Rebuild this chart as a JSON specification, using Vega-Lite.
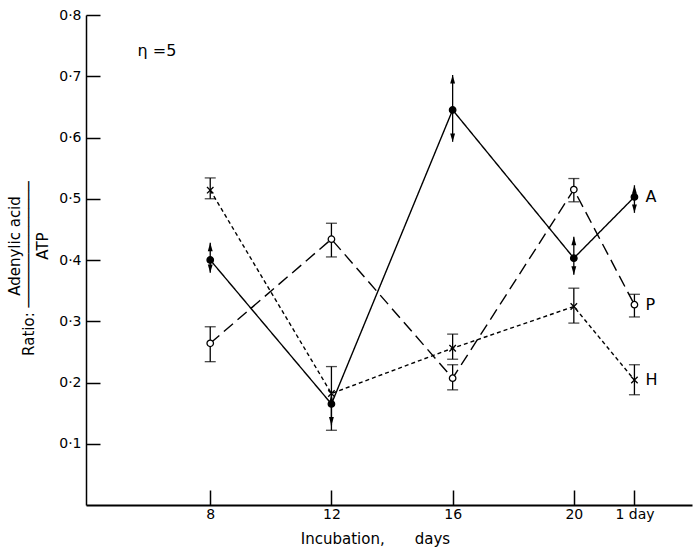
{
  "$schema": "https://vega.github.io/schema/vega-lite/v6.json",
  "width": 606,
  "height": 490,
  "autosize": {"type": "none"},
  "padding": {"left": 86, "top": 15, "right": 1, "bottom": 48},
  "background": "white",
  "config": {
    "view": {"stroke": null},
    "font": "DejaVu Sans",
    "axis": {"grid": false, "domainColor": "black", "tickColor": "black", "labelColor": "black", "titleColor": "black", "labelFont": "DejaVu Sans", "titleFont": "DejaVu Sans", "titleFontWeight": "normal"}
  },
  "datasets": {
    "obs": [
      {"series": "A", "day": 8, "value": 0.40, "lo": 0.379, "hi": 0.428},
      {"series": "A", "day": 12, "value": 0.165, "lo": 0.13, "hi": 0.18},
      {"series": "A", "day": 16, "value": 0.645, "lo": 0.593, "hi": 0.702},
      {"series": "A", "day": 20, "value": 0.403, "lo": 0.376, "hi": 0.438},
      {"series": "A", "day": 22, "value": 0.503, "lo": 0.477, "hi": 0.522},
      {"series": "P", "day": 8, "value": 0.264, "lo": 0.234, "hi": 0.291},
      {"series": "P", "day": 12, "value": 0.434, "lo": 0.405, "hi": 0.46},
      {"series": "P", "day": 16, "value": 0.207, "lo": 0.188, "hi": 0.229},
      {"series": "P", "day": 20, "value": 0.515, "lo": 0.495, "hi": 0.533},
      {"series": "P", "day": 22, "value": 0.327, "lo": 0.307, "hi": 0.344},
      {"series": "H", "day": 8, "value": 0.514, "lo": 0.50, "hi": 0.534},
      {"series": "H", "day": 12, "value": 0.182, "lo": 0.122, "hi": 0.226},
      {"series": "H", "day": 16, "value": 0.256, "lo": 0.238, "hi": 0.279},
      {"series": "H", "day": 20, "value": 0.324, "lo": 0.297, "hi": 0.354},
      {"series": "H", "day": 22, "value": 0.204, "lo": 0.18, "hi": 0.229}
    ],
    "note": [
      {"day": 5.6, "value": 0.742, "text": "η =5"}
    ]
  },
  "data": {"name": "obs"},
  "encoding": {
    "x": {
      "field": "day", "type": "quantitative",
      "scale": {"domain": [3.9, 23.9], "nice": false, "zero": false},
      "axis": {
        "values": [8, 12, 16, 20, 22],
        "labelExpr": "datum.value == 22 ? '1 day' : datum.label",
        "tickSize": -15, "tickWidth": 1.5, "domainWidth": 2, "labelFontSize": 14, "labelPadding": 17,
        "title": "Incubation,\u2003\u2003days", "titleFontSize": 15, "titleX": 289, "titleY": 26
      }
    },
    "y": {
      "field": "value", "type": "quantitative",
      "scale": {"domain": [0, 0.8], "nice": false},
      "axis": {
        "values": [0.1, 0.2, 0.3, 0.4, 0.5, 0.6, 0.7, 0.8],
        "labelExpr": "replace(format(datum.value, '.1f'), '.', '·')",
        "tickSize": -14, "tickWidth": 1.5, "domainWidth": 1.5, "labelFontSize": 14, "labelPadding": 19,
        "title": ["\u200b\u2003\u2003\u2003Adenylic acid", "Ratio: ──────────────", "\u200b\u2003\u2003\u2003ATP"],
        "titleFontSize": 15, "titleLineHeight": 14, "titlePadding": 8, "titleY": 253
      }
    }
  },
  "layer": [
    {
      "mark": {"type": "line", "color": "black", "strokeWidth": 1.4},
      "encoding": {
        "detail": {"field": "series"},
        "strokeDash": {"field": "series", "type": "nominal", "scale": {"domain": ["A", "P", "H"], "range": [[1, 0], [12, 6], [4, 3]]}, "legend": null}
      }
    },
    {
      "mark": {"type": "rule", "color": "black", "strokeWidth": 1.3},
      "encoding": {"y": {"field": "lo", "type": "quantitative"}, "y2": {"field": "hi"}}
    },
    {
      "transform": [{"filter": "datum.series != 'A'"}],
      "mark": {"type": "tick", "orient": "horizontal", "color": "black", "thickness": 1.3, "size": 11},
      "encoding": {"y": {"field": "lo", "type": "quantitative"}}
    },
    {
      "transform": [{"filter": "datum.series != 'A'"}],
      "mark": {"type": "tick", "orient": "horizontal", "color": "black", "thickness": 1.3, "size": 11},
      "encoding": {"y": {"field": "hi", "type": "quantitative"}}
    },
    {
      "transform": [{"filter": "datum.series == 'A'"}],
      "mark": {"type": "point", "shape": "M0,0L0.7,2.4L-0.7,2.4Z", "filled": true, "color": "black", "size": 49, "opacity": 1},
      "encoding": {"y": {"field": "hi", "type": "quantitative"}}
    },
    {
      "transform": [{"filter": "datum.series == 'A'"}],
      "mark": {"type": "point", "shape": "M0,0L0.7,-2.4L-0.7,-2.4Z", "filled": true, "color": "black", "size": 49, "opacity": 1},
      "encoding": {"y": {"field": "lo", "type": "quantitative"}}
    },
    {
      "mark": {"type": "point", "stroke": "black", "strokeWidth": 1.3, "size": 42, "opacity": 1},
      "encoding": {
        "shape": {"field": "series", "type": "nominal", "scale": {"domain": ["A", "P", "H"], "range": ["circle", "circle", "M-1,-1L1,1M-1,1L1,-1"]}, "legend": null},
        "fill": {"field": "series", "type": "nominal", "scale": {"domain": ["A", "P", "H"], "range": ["black", "white", "transparent"]}, "legend": null}
      }
    },
    {
      "transform": [{"filter": "datum.day == 22"}],
      "mark": {"type": "text", "align": "left", "baseline": "middle", "dx": 11, "fontSize": 16, "color": "black"},
      "encoding": {"text": {"field": "series"}}
    },
    {
      "data": {"name": "note"},
      "mark": {"type": "text", "align": "left", "baseline": "middle", "fontSize": 16, "color": "black"},
      "encoding": {"text": {"field": "text"}}
    }
  ]
}
